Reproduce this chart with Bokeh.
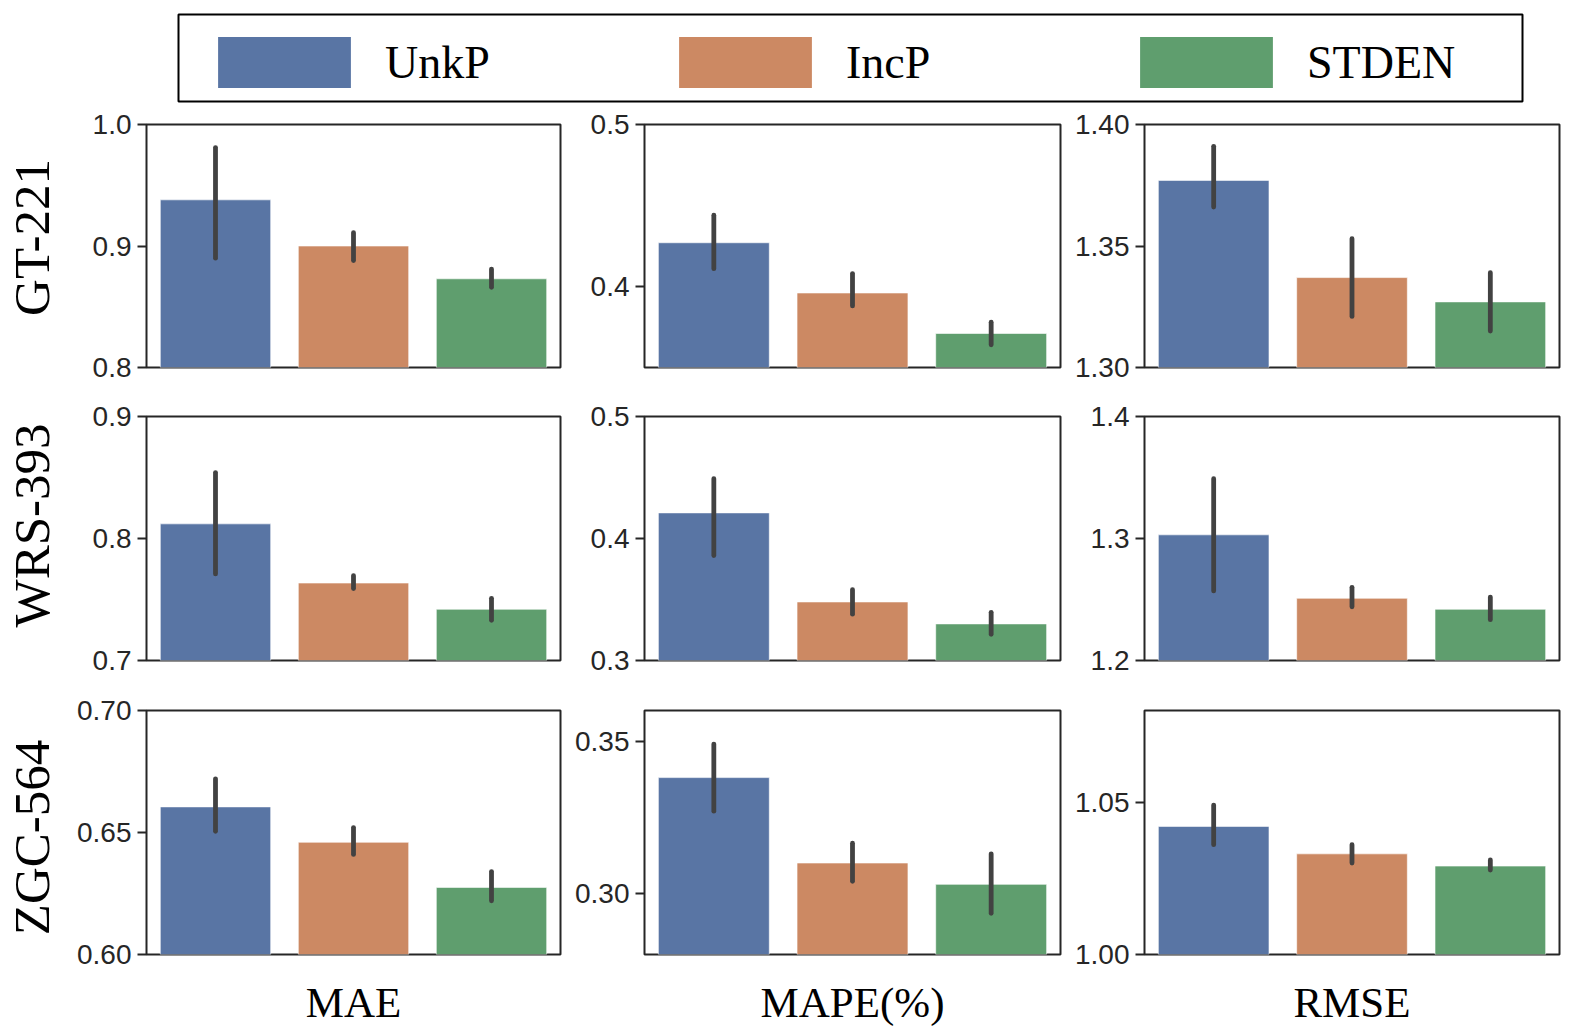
from bokeh.plotting import figure
from bokeh.layouts import column, row
from bokeh.models import (ColumnDataSource, Range1d, FixedTicker, Legend, LegendItem,
                          LinearAxis)
from bokeh.embed import file_html
from bokeh.resources import INLINE

# ---------------- data ----------------
methods = ["UnkP", "IncP", "STDEN"]
colors = ["#5975A4", "#CC8963", "#5F9E6E"]
datasets = ["GT-221", "WRS-393", "ZGC-564"]
metrics = ["MAE", "MAPE(%)", "RMSE"]

# GT-221
gt221_mae = [0.938, 0.900, 0.873]
gt221_mae_lo = [0.890, 0.888, 0.866]
gt221_mae_hi = [0.981, 0.911, 0.881]
gt221_mape = [0.427, 0.396, 0.371]
gt221_mape_lo = [0.411, 0.388, 0.364]
gt221_mape_hi = [0.444, 0.408, 0.378]
gt221_rmse = [1.377, 1.337, 1.327]
gt221_rmse_lo = [1.366, 1.321, 1.315]
gt221_rmse_hi = [1.391, 1.353, 1.339]

# WRS-393
wrs393_mae = [0.812, 0.7635, 0.742]
wrs393_mae_lo = [0.771, 0.759, 0.733]
wrs393_mae_hi = [0.854, 0.7695, 0.751]
wrs393_mape = [0.421, 0.348, 0.330]
wrs393_mape_lo = [0.386, 0.338, 0.3215]
wrs393_mape_hi = [0.449, 0.358, 0.3395]
wrs393_rmse = [1.303, 1.251, 1.242]
wrs393_rmse_lo = [1.257, 1.244, 1.2335]
wrs393_rmse_hi = [1.349, 1.260, 1.252]

# ZGC-564
zgc564_mae = [0.6605, 0.646, 0.6275]
zgc564_mae_lo = [0.6505, 0.641, 0.622]
zgc564_mae_hi = [0.672, 0.652, 0.634]
zgc564_mape = [0.338, 0.310, 0.303]
zgc564_mape_lo = [0.327, 0.304, 0.2935]
zgc564_mape_hi = [0.349, 0.3165, 0.313]
zgc564_rmse = [1.042, 1.033, 1.029]
zgc564_rmse_lo = [1.036, 1.030, 1.0277]
zgc564_rmse_hi = [1.049, 1.036, 1.031]

# axis limits and ticks (row = dataset, col = metric)
y_limits = [
    [(0.80, 1.00), (0.35, 0.50), (1.30, 1.40)],
    [(0.70, 0.90), (0.30, 0.50), (1.20, 1.40)],
    [(0.60, 0.70), (0.28, 0.36), (1.00, 1.08)],
]
y_ticks = [
    [[0.8, 0.9, 1.0], [0.4, 0.5], [1.30, 1.35, 1.40]],
    [[0.7, 0.8, 0.9], [0.3, 0.4, 0.5], [1.2, 1.3, 1.4]],
    [[0.60, 0.65, 0.70], [0.30, 0.35], [1.00, 1.05]],
]
y_tick_labels = [
    [["0.8", "0.9", "1.0"], ["0.4", "0.5"], ["1.30", "1.35", "1.40"]],
    [["0.7", "0.8", "0.9"], ["0.3", "0.4", "0.5"], ["1.2", "1.3", "1.4"]],
    [["0.60", "0.65", "0.70"], ["0.30", "0.35"], ["1.00", "1.05"]],
]

panel_data = [
    [(gt221_mae, gt221_mae_lo, gt221_mae_hi),
     (gt221_mape, gt221_mape_lo, gt221_mape_hi),
     (gt221_rmse, gt221_rmse_lo, gt221_rmse_hi)],
    [(wrs393_mae, wrs393_mae_lo, wrs393_mae_hi),
     (wrs393_mape, wrs393_mape_lo, wrs393_mape_hi),
     (wrs393_rmse, wrs393_rmse_lo, wrs393_rmse_hi)],
    [(zgc564_mae, zgc564_mae_lo, zgc564_mae_hi),
     (zgc564_mape, zgc564_mape_lo, zgc564_mape_hi),
     (zgc564_rmse, zgc564_rmse_lo, zgc564_rmse_hi)],
]

# ---------------- layout constants ----------------
EDGE = "#262626"
TICK_FONT = "Liberation Sans"
SERIF = "Liberation Serif"

col_widths = [496, 500, 501]
col_border_left = [74, 76, 76]
col_border_right = [8, 8, 10]
row_heights = [286, 293, 346]
row_border_top = [18, 24, 25]
row_border_bottom = [25, 25, 77]
label_fig_width = 72
label_border_top = [18, 24, 25]
label_border_bottom = [42, 51, 67]


def make_panel(r, c):
    mean, lo, hi = panel_data[r][c]
    src = ColumnDataSource(dict(method=methods, value=mean, lo=lo, hi=hi, color=colors))
    p = figure(
        width=col_widths[c], height=row_heights[r], title=None,
        x_range=methods, y_range=Range1d(*y_limits[r][c]),
        output_backend="svg", toolbar_location=None,
        min_border_left=col_border_left[c], min_border_right=col_border_right[c],
        min_border_top=row_border_top[r], min_border_bottom=row_border_bottom[r],
    )
    p.x_range.range_padding = 0
    p.vbar(x="method", top="value", bottom=0, width=0.8, source=src,
           fill_color="color", line_color="white", line_alpha=0.6, line_width=1)
    p.segment(x0="method", y0="lo", x1="method", y1="hi", source=src,
              line_color="#424242", line_width=4.8, line_cap="round")
    p.xgrid.visible = False
    p.ygrid.visible = False
    p.outline_line_color = EDGE
    p.outline_line_width = 2
    p.outline_line_alpha = 1
    p.background_fill_color = "white"
    p.border_fill_color = "white"

    ya = p.yaxis[0]
    ya.ticker = FixedTicker(ticks=y_ticks[r][c])
    ya.major_label_overrides = {t: s for t, s in zip(y_ticks[r][c], y_tick_labels[r][c])}
    ya.major_label_text_font = TICK_FONT
    ya.major_label_text_font_size = "28px"
    ya.major_label_text_color = EDGE
    ya.major_tick_out = 9
    ya.major_tick_in = 0
    ya.minor_tick_line_color = None
    ya.major_tick_line_color = EDGE
    ya.major_tick_line_width = 2
    ya.major_label_standoff = 6
    ya.axis_line_color = None

    p.xaxis.visible = False
    if r == 2:
        xa = LinearAxis(ticker=FixedTicker(ticks=[]), axis_label=metrics[c])
        xa.axis_label_text_font = SERIF
        xa.axis_label_text_font_size = "43px"
        xa.axis_label_text_font_style = "normal"
        xa.axis_label_text_color = "black"
        xa.axis_label_standoff = 24
        xa.major_label_standoff = 0
        xa.major_tick_out = 0
        xa.major_tick_in = 0
        xa.minor_tick_out = 0
        xa.minor_tick_line_color = None
        xa.major_tick_line_color = None
        xa.axis_line_color = None
        p.add_layout(xa, "below")
    return p


def make_row_label(r):
    p = figure(width=label_fig_width, height=row_heights[r], title=None,
               output_backend="svg", toolbar_location=None,
               x_range=Range1d(0, 1), y_range=Range1d(0, 1),
               x_axis_location=None,
               min_border_left=0, min_border_right=0,
               min_border_top=label_border_top[r], min_border_bottom=label_border_bottom[r])
    p.xgrid.visible = False
    p.ygrid.visible = False
    p.outline_line_color = None
    ya = p.yaxis[0]
    ya.ticker = FixedTicker(ticks=[])
    ya.major_tick_out = 0
    ya.major_tick_in = 0
    ya.major_label_standoff = 0
    ya.minor_tick_line_color = None
    ya.major_tick_line_color = None
    ya.axis_line_color = None
    ya.axis_label = datasets[r]
    ya.axis_label_standoff = 0
    ya.axis_label_text_font = SERIF
    ya.axis_label_text_font_size = "51px"
    ya.axis_label_text_font_style = "normal"
    ya.axis_label_text_color = "black"
    return p


# ---------------- legend ----------------
leg = figure(width=1569, height=106, title=None, output_backend="svg", toolbar_location=None,
             x_axis_location=None, y_axis_location=None,
             x_range=Range1d(0, 1), y_range=Range1d(0, 1),
             min_border_left=178, min_border_right=47, min_border_top=14, min_border_bottom=5)
leg.xgrid.visible = False
leg.ygrid.visible = False
leg.outline_line_color = "black"
leg.outline_line_width = 2
leg_x = [23, 484, 945]
for m, col, lx in zip(methods, colors, leg_x):
    # zero-size proxy renderer used only for the legend swatch
    rr = leg.vbar(x=[0.5], top=[0.5], bottom=[0.5], width=0, fill_color=col, line_color=None)
    lg = Legend(items=[LegendItem(label=m, renderers=[rr])], location=(lx, 7),
                orientation="horizontal", glyph_width=166, glyph_height=64,
                label_height=64, label_standoff=18, padding=0, margin=0, spacing=0,
                border_line_alpha=0, background_fill_alpha=0,
                label_text_font=SERIF, label_text_font_size="46px",
                label_text_color="black")
    leg.add_layout(lg, "center")

label_col = column([make_row_label(r) for r in range(3)], spacing=0)
panel_col = column([row([make_panel(r, c) for c in range(3)], spacing=0) for r in range(3)],
                   spacing=0)

layout = column([leg, row([label_col, panel_col], spacing=0)], spacing=0)
open("out.html", "w").write(file_html(layout, INLINE))
